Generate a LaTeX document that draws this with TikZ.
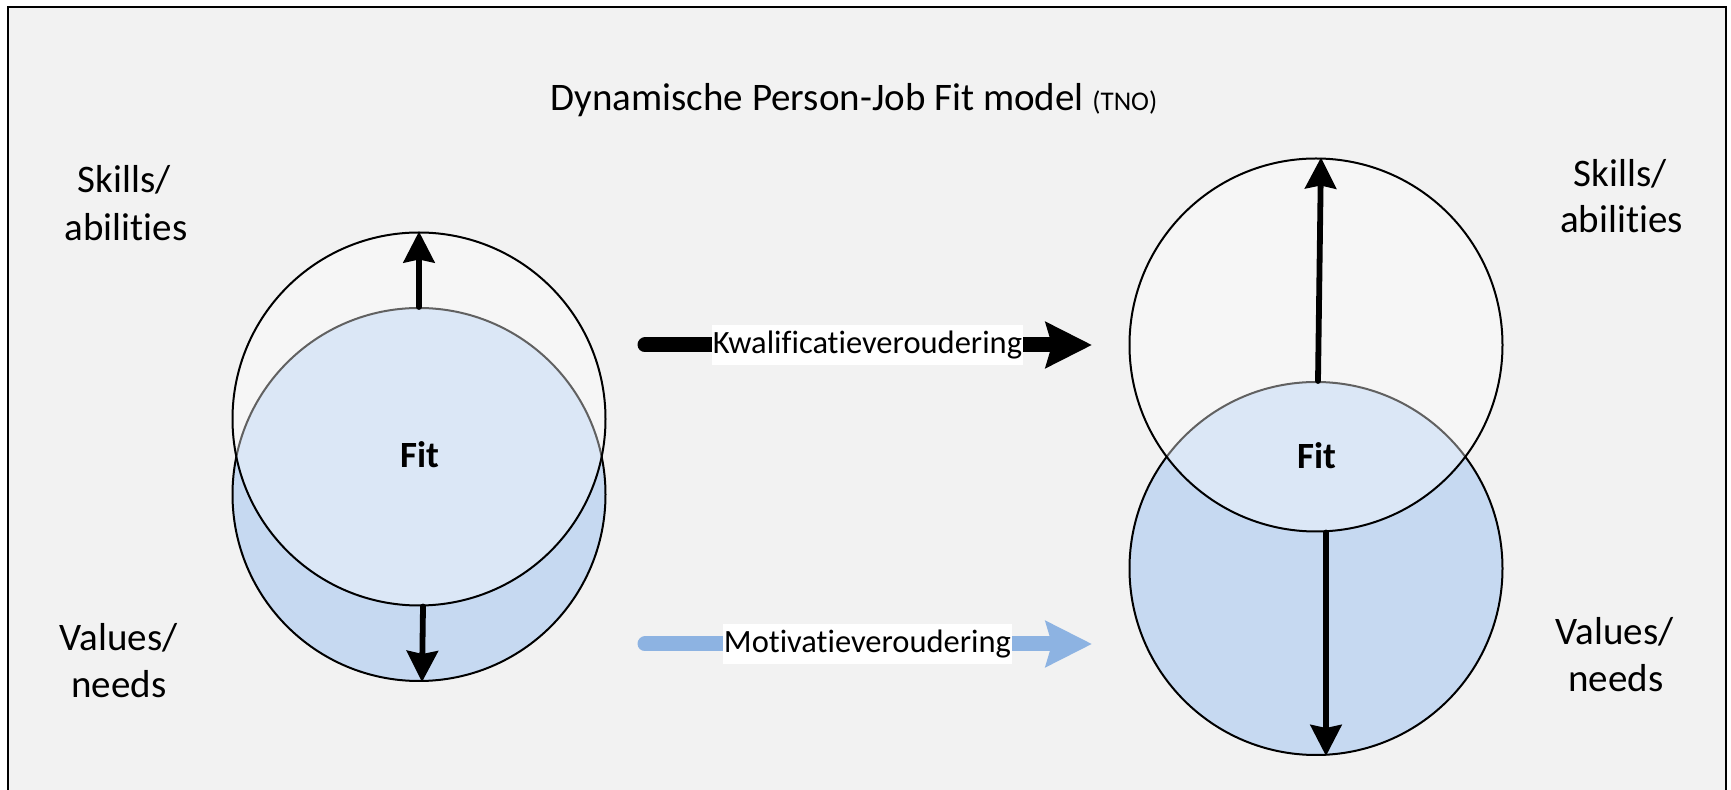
\documentclass[tikz,border=0pt]{standalone}
\usepackage{fontspec}
\setmainfont{Carlito}[RawFeature={-liga;-clig;-dlig;-calt}]
\usetikzlibrary{arrows.meta,calc}
\definecolor{bg}{HTML}{F2F2F2}
\definecolor{vblue}{HTML}{C6D9F1}
\definecolor{ablue}{HTML}{8DB3E2}
\begin{document}
\begin{tikzpicture}[x=0.5pt,y=-0.5pt,
  circ/.style={circle, draw=black, line width=1pt, minimum size=186.5pt, inner sep=0pt},
  fitlbl/.style={anchor=base, inner sep=0pt, font=\fontsize{18.5}{21}\selectfont\bfseries},
  sidelbl/.style={anchor=base, inner sep=0pt, font=\fontsize{19.5}{24}\selectfont},
  varrow/.style={line width=2.9pt, line cap=round, -{Stealth[length=15.5pt,width=15.5pt,inset=1.5pt]}},
  harrow/.style={line width=7.5pt, line cap=round, -{Stealth[length=23pt,width=22.5pt,inset=3pt]}},
  lbl/.style={fill=white, anchor=base, inner xsep=0.5pt, inner ysep=0pt, text height=14.5pt, text depth=5.5pt, font=\fontsize{16.25}{19}\selectfont}
]
\useasboundingbox (0,0) rectangle (1731,790);
\begin{scope}
\clip (0,0) rectangle (1731,790);
\fill[white] (0,0) rectangle (1731,790);
\draw[line width=1.25pt, fill=bg] (8,7) rectangle (1726,840);
\end{scope}

% title
\node[anchor=base, inner sep=0pt] (title) at (854,111)
  {\fontsize{19.5}{23}\selectfont Dynamische Person-Job Fit model {\fontsize{13.5}{16}\selectfont (TNO)}};

% left figure
\node[circ, fill=vblue] (bl) at (419,494.5) {};
\node[circ, fill=white, fill opacity=0.38] (tl) at (419,419) {};
\draw[varrow] (bl.north) -- (tl.north);
\draw[varrow] ($(tl.south)+(4,0)$) -- ($(bl.south)+(3,0)$);
\node[fitlbl] (fitl) at (419.5,468) {Fit};

% right figure
\node[circ, fill=vblue] (br) at (1316,568.5) {};
\node[circ, fill=white, fill opacity=0.38] (tr) at (1316,345) {};
\draw[varrow] ($(br.north)+(2,0)$) -- ($(tr.north)+(5,0)$);
\draw[varrow] ($(tr.south)+(10,0)$) -- ($(br.south)+(10,0)$);
\node[fitlbl] (fitr) at (1316.5,469) {Fit};

% side labels
\node[sidelbl] (sk1) at (124,193) {Skills/};
\node[sidelbl] (sk2) at (126,241) {abilities};
\node[sidelbl] (va1) at (118.5,651) {Values/};
\node[sidelbl] (va2) at (119,698) {needs};
\node[sidelbl] (sk3) at (1620,187) {Skills/};
\node[sidelbl] (sk4) at (1621.5,233) {abilities};
\node[sidelbl] (va3) at (1614.5,645) {Values/};
\node[sidelbl] (va4) at (1616,692) {needs};

% horizontal arrows
\coordinate (k1) at (645,345);
\coordinate (k2) at (1092,345);
\draw[harrow, black] (k1) -- (k2);
\node[lbl] (kw) at (867.5,354) {Kwalificatieveroudering};

\coordinate (m1) at (645,644);
\coordinate (m2) at (1092,644);
\draw[harrow, ablue] (m1) -- (m2);
\node[lbl] (mo) at (867.5,653) {Motivatieveroudering};
\end{tikzpicture}
\end{document}
